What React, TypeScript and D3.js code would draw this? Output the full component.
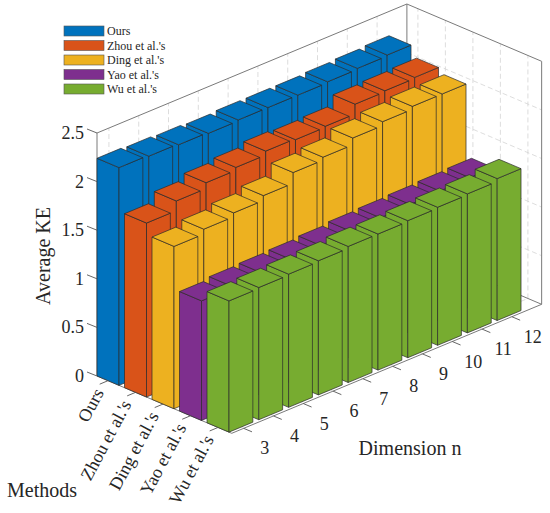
import React from 'react';
import * as d3 from 'd3';

const methods = ["Ours", "Zhou et al.'s", "Ding et al.'s", "Yao et al.'s", "Wu et al.'s"];
const dimensions = ["3", "4", "5", "6", "7", "8", "9", "10", "11", "12"];
const ours = [2.24, 2.23, 2.22, 2.21, 2.22, 2.22, 2.22, 2.23, 2.24, 2.25];
const zhou = [1.79, 1.89, 1.95, 1.98, 2.02, 2.01, 2.02, 2.12, 2.13, 2.14];
const ding = [1.67, 1.72, 1.76, 1.81, 1.92, 1.95, 2.02, 2.06, 2.09, 2.09];
const yao = [1.23, 1.255, 1.265, 1.275, 1.29, 1.31, 1.32, 1.33, 1.34, 1.35];
const wu = [1.35, 1.36, 1.37, 1.38, 1.4, 1.4, 1.41, 1.42, 1.43, 1.46];
const zTicks = [0, 0.5, 1, 1.5, 2, 2.5];
const colors = ["#0072BD", "#D95319", "#EDB120", "#7E2F8E", "#77AC30"];

const series = [ours, zhou, ding, yao, wu];

const M0 = 0.6, M1 = 5.5, D0 = 0.6, D1 = 11, Z1 = 2.5;
const mX = d3.scaleLinear().domain([M0, M1]).range([0, 134.75]);
const mY = d3.scaleLinear().domain([M0, M1]).range([0, 57.3]);
const dX = d3.scaleLinear().domain([D0, D1]).range([0, 309.9]);
const dY = d3.scaleLinear().domain([D0, D1]).range([0, -129]);
const zY = d3.scaleLinear().domain([0, Z1]).range([0, -243]);
const OX = 97, OY = 376;

function proj(m: number, d: number, z: number): [number, number] {
  return [OX + mX(m) + dX(d), OY + mY(m) + dY(d) + zY(z)];
}
function poly(pts: [number, number][]) {
  return pts.map(p => p[0].toFixed(2) + ',' + p[1].toFixed(2)).join(' ');
}
const line = (a: [number, number], b: [number, number]) => ({ x1: a[0], y1: a[1], x2: b[0], y2: b[1] });

const txt = (size: number) => ({ fontFamily: '"Liberation Serif"', fontSize: size + 'px', fill: '#262626' });

export default function App() {
  const grid: any[] = [];
  const gridStyle = { stroke: '#d4d4d4', strokeWidth: 0.8, strokeDasharray: '5,3', fill: 'none' };
  dimensions.forEach((_, j) => {
    grid.push(<line key={'gw1' + j} {...line(proj(M0, j + 1, 0), proj(M0, j + 1, Z1))} style={gridStyle} />);
  });
  zTicks.slice(1, -1).forEach((z, k) => {
    grid.push(<line key={'gw2' + k} {...line(proj(M0, D0, z), proj(M0, D1, z))} style={gridStyle} />);
    grid.push(<line key={'gw3' + k} {...line(proj(M0, D1, z), proj(M1, D1, z))} style={gridStyle} />);
  });
  methods.forEach((_, i) => {
    grid.push(<line key={'gw4' + i} {...line(proj(i + 1, D1, 0), proj(i + 1, D1, Z1))} style={gridStyle} />);
    grid.push(<line key={'gf1' + i} {...line(proj(i + 1, D0, 0), proj(i + 1, D1, 0))} style={gridStyle} />);
  });
  dimensions.forEach((_, j) => {
    grid.push(<line key={'gf2' + j} {...line(proj(M0, j + 1, 0), proj(M1, j + 1, 0))} style={gridStyle} />);
  });

  const boxStyle = { stroke: '#7a7a7a', strokeWidth: 1, fill: 'none' };
  const box = [
    line(proj(M0, D0, Z1), proj(M0, D1, Z1)),
    line(proj(M0, D1, Z1), proj(M1, D1, Z1)),
    line(proj(M0, D1, 0), proj(M0, D1, Z1)),
    line(proj(M1, D1, 0), proj(M1, D1, Z1)),
    line(proj(M0, D0, 0), proj(M0, D0, Z1)),
    line(proj(M0, D0, 0), proj(M1, D0, 0)),
    line(proj(M1, D0, 0), proj(M1, D1, 0)),
    line(proj(M0, D1, 0), proj(M1, D1, 0)),
    line(proj(M0, D0, 0), proj(M0, D1, 0)),
  ];

  const bars: any[] = [];
  const w = 0.4;
  series.forEach((vals, i) => {
    const m = i + 1;
    for (let j = vals.length - 1; j >= 0; j--) {
      const d = j + 1;
      const v = vals[j];
      const top = [proj(m - w, d - w, v), proj(m + w, d - w, v), proj(m + w, d + w, v), proj(m - w, d + w, v)];
      const front = [proj(m - w, d - w, 0), proj(m + w, d - w, 0), proj(m + w, d - w, v), proj(m - w, d - w, v)];
      const side = [proj(m + w, d - w, 0), proj(m + w, d + w, 0), proj(m + w, d + w, v), proj(m + w, d - w, v)];
      const st = { fill: colors[i], stroke: '#2b2b2b', strokeWidth: 0.7, strokeLinejoin: 'round' as const };
      bars.push(
        <g key={'b' + i + '-' + j}>
          <polygon points={poly(front)} style={st} />
          <polygon points={poly(side)} style={st} />
          <polygon points={poly(top)} style={st} />
        </g>
      );
    }
  });

  const tickStyle = { stroke: '#555', strokeWidth: 0.9 };
  const zt = zTicks.map((z, k) => {
    const p = proj(M0, D0, z);
    return (
      <g key={'zt' + k}>
        <line x1={p[0]} y1={p[1]} x2={p[0] - 10} y2={p[1] - 4} style={tickStyle} />
        <text x={84} y={p[1]} textAnchor="end" dominantBaseline="central" style={txt(18)}>{z}</text>
      </g>
    );
  });
  const mt = methods.map((name, i) => {
    const p = proj(i + 1, D0, 0);
    const lx = p[0] - 9, ly = p[1] + 9;
    return (
      <g key={'mt' + i}>
        <line x1={p[0]} y1={p[1]} x2={p[0] - 8.3} y2={p[1] + 3.5} style={tickStyle} />
        <text x={lx} y={ly} textAnchor="end" dominantBaseline="central" style={txt(18)} transform={`rotate(-62 ${lx} ${ly})`}>{name}</text>
      </g>
    );
  });
  const dt = dimensions.map((name, j) => {
    const p = proj(M1, j + 1, 0);
    return (
      <g key={'dt' + j}>
        <line x1={p[0]} y1={p[1]} x2={p[0] + 8.3} y2={p[1] + 3.5} style={tickStyle} />
        <text x={p[0] + 21} y={p[1] + 20} textAnchor="middle" dominantBaseline="central" style={txt(18)}>{name}</text>
      </g>
    );
  });

  const legend = methods.map((name, k) => (
    <g key={'lg' + k}>
      <rect x={64} y={26 + k * 14.5} width={40} height={10} fill={colors[k]} stroke="#555" strokeWidth={0.6} />
      <text x={107} y={31 + k * 14.5} dominantBaseline="central" style={txt(12)}>{name}</text>
    </g>
  ));

  return (
    <svg width={550} height={513} style={{ position: 'absolute', left: 0, top: 0, background: '#fff' }}>
      <rect x={0} y={0} width={550} height={513} fill="#fff" />
      {grid}
      {box.map((l, k) => <line key={'bx' + k} {...l} style={boxStyle} />)}
      {bars}
      {zt}
      {mt}
      {dt}
      <text x={43} y={256} textAnchor="middle" dominantBaseline="central" style={txt(20)} transform="rotate(-90 43 256)">Average KE</text>
      <text x={7} y={490} dominantBaseline="central" style={txt(20)}>Methods</text>
      <text x={410} y={448} textAnchor="middle" dominantBaseline="central" style={txt(20)}>Dimension n</text>
      {legend}
    </svg>
  );
}
